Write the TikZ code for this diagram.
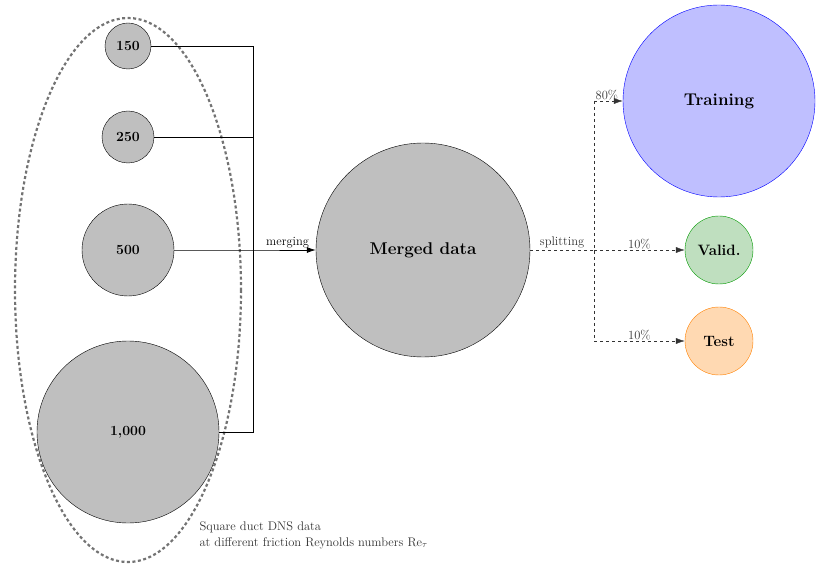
\documentclass[tikz,border=0pt]{standalone}
\usetikzlibrary{arrows.meta}
\begin{document}
\begin{tikzpicture}[x=1pt,y=-1pt,
  ds/.style={circle,draw,fill=gray!50,font=\fontsize{14}{16}\selectfont\bfseries,inner sep=0pt},
  sm/.style={font=\fontsize{12.5}{14}\selectfont},
  ln/.style={thick},
  ar/.style={-{Latex[length=9pt,width=6pt]}},
  dl/.style={dashed,gray!40!black}]
\useasboundingbox (0,0) rectangle (830,569);
\draw[gray!110,dotted,line width=2.2pt,dash pattern=on 3pt off 2.5pt] (128,290) ellipse [x radius=113, y radius=272];
\node[ds,minimum size=46pt] (a) at (128,46) {150};
\node[ds,minimum size=52pt] (b) at (128,137) {250};
\node[ds,minimum size=92pt] (c) at (128,250) {500};
\node[ds,minimum size=182pt] (d) at (128,432) {1,000};
\node[ds,minimum size=214pt,font=\fontsize{17}{19}\selectfont\bfseries] (m) at (423,250) {Merged data};
\node[circle,draw=blue,fill=blue!25,minimum size=192pt,font=\fontsize{17}{19}\selectfont\bfseries] (t) at (719,101) {Training};
\node[circle,draw=green!60!black,fill=green!50!black!25,minimum size=68pt,font=\fontsize{15}{17}\selectfont\bfseries,inner sep=0pt] (v) at (719,250) {Valid.};
\node[circle,draw=orange,fill=orange!30,minimum size=68pt,font=\fontsize{15}{17}\selectfont\bfseries,inner sep=0pt] (e) at (719,341) {Test};
\coordinate (j1) at (253,46);
\coordinate (j4) at (253,432);
\coordinate (j3) at (253,250);
\draw[ln] (a) -- (j1) -- (j4) -- (d);
\draw[ln] (b.east) -- (253,137);
\draw[ln,ar] (c) -- (j3) -- node[sm,above,pos=0.55,inner sep=2pt]{merging} (m);
\coordinate (s) at (594,250);
\draw[dl] (m) -- node[sm,above,inner sep=2pt]{splitting} (s);
\draw[dl] (594,101) -- (594,341);
\draw[dl,ar] (594,101) -- node[sm,above,pos=0.45,inner sep=1pt]{80\%} (t);
\draw[dl,ar] (s) -- node[sm,above,pos=0.5,inner sep=1pt]{10\%} (v);
\draw[dl,ar] (594,341) -- node[sm,above,pos=0.5,inner sep=1pt]{10\%} (e);
\node[sm,anchor=west,align=left,text=black!80] (lbl) at (196,535) {Square duct DNS data\\[2pt] at different friction Reynolds numbers Re$_\tau$};
\end{tikzpicture}
\end{document}
